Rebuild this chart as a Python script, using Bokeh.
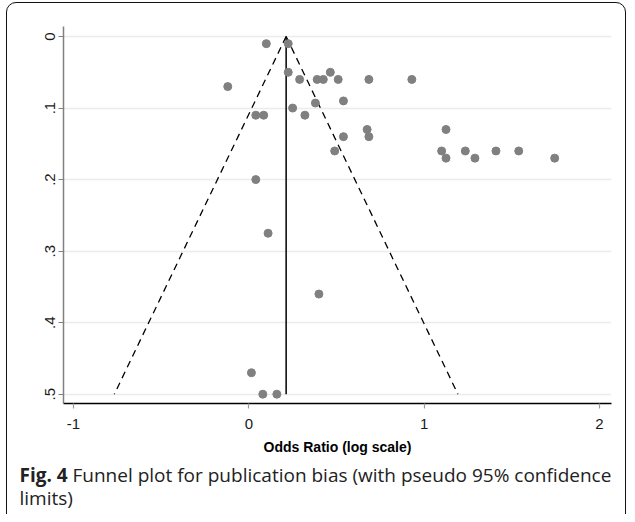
from bokeh.plotting import figure
from bokeh.layouts import column
from bokeh.models import Range1d, FixedTicker, InlineStyleSheet
from bokeh.core.properties import value
from bokeh.embed import file_html
from bokeh.resources import INLINE

# ---- data ----
log_or = [0.10, 0.225, -0.12, 0.225, 0.29, 0.39, 0.425, 0.465, 0.51, 0.685, 0.93,
          0.04, 0.085, 0.25, 0.32, 0.38, 0.54, 0.675, 0.685, 0.54, 0.49,
          1.125, 1.10, 1.125, 1.235, 1.29, 1.41, 1.54, 1.745,
          0.04, 0.11, 0.40, 0.015, 0.08, 0.16]
se_or = [0.01, 0.01, 0.07, 0.05, 0.06, 0.06, 0.06, 0.05, 0.06, 0.06, 0.06,
         0.11, 0.11, 0.10, 0.11, 0.093, 0.09, 0.13, 0.14, 0.14, 0.16,
         0.13, 0.16, 0.17, 0.16, 0.17, 0.16, 0.16, 0.17,
         0.20, 0.275, 0.36, 0.47, 0.50, 0.50]
pooled = 0.213
funnel_se = [0.0, 0.5]
z95 = 1.96

x_ticks = [-1, 0, 1, 2]
x_tick_labels = ["-1", "0", "1", "2"]
y_ticks = [0, 0.1, 0.2, 0.3, 0.4, 0.5]
y_tick_labels = ["0", ".1", ".2", ".3", ".4", ".5"]

x_title = "Odds Ratio (log scale)"
caption_bold = "Fig. 4"
caption_line1 = "Funnel plot for publication bias (with pseudo 95% confidence"
caption_line2 = "limits)"

W = 627
H_PLOT = 460
H_CAP = 54

# ---- main plot ----
p = figure(width=W, height=H_PLOT, output_backend="svg", toolbar_location=None,
           x_range=Range1d(-1.057, 2.069), y_range=Range1d(0.513, -0.014),
           min_border_left=63, min_border_right=16, min_border_top=26,
           min_border_bottom=H_PLOT - 26 - 377)
p.background_fill_color = "white"
p.border_fill_color = "white"
p.outline_line_color = None
p.frame_align = False

left_x = [pooled - z95 * s for s in funnel_se]
right_x = [pooled + z95 * s for s in funnel_se]
p.line(left_x, funnel_se, line_color="black", line_width=1.3, line_dash="7 5")
p.line(right_x, funnel_se, line_color="black", line_width=1.3, line_dash="7 5")
p.line([pooled, pooled], funnel_se, line_color="black", line_width=1.5)

p.scatter(log_or, se_or, size=8, fill_color="#808080", line_color="#808080")

p.xaxis.ticker = FixedTicker(ticks=x_ticks)
p.xaxis.major_label_overrides = {t: l for t, l in zip(x_ticks, x_tick_labels)}
p.yaxis.ticker = FixedTicker(ticks=y_ticks)
p.yaxis.major_label_overrides = {t: l for t, l in zip(y_ticks, y_tick_labels)}

for ax in (p.xaxis[0], p.yaxis[0]):
    ax.major_label_text_font = "Liberation Sans"
    ax.major_label_text_font_size = "15px"
    ax.major_label_text_color = "#1a1a1a"
    ax.minor_tick_line_color = None
    ax.major_tick_in = 0
    ax.major_tick_out = 5
    ax.axis_line_width = 1.5
    ax.major_tick_line_width = 1.2

p.xaxis.axis_line_color = "black"
p.xaxis.major_tick_line_color = "#9a9a9a"
p.xaxis.major_label_standoff = 10
p.xaxis.axis_label = x_title
p.xaxis.axis_label_text_font = "Liberation Sans"
p.xaxis.axis_label_text_font_style = "bold"
p.xaxis.axis_label_text_font_size = "14px"
p.xaxis.axis_label_text_color = "black"
p.xaxis.axis_label_standoff = 7

p.yaxis.axis_line_color = "#808080"
p.yaxis.major_tick_line_color = "#808080"
p.yaxis.major_label_orientation = "vertical"
p.yaxis.major_label_standoff = 3

p.xgrid.visible = False
p.ygrid.grid_line_color = "#ebebeb"
p.ygrid.grid_line_width = 1.5

# ---- caption panel (pixel coordinates, y downward) ----
c = figure(width=W, height=H_CAP, output_backend="svg", toolbar_location=None,
           x_axis_location=None, y_axis_location=None,
           x_range=Range1d(0, W), y_range=Range1d(H_CAP, 0),
           min_border_left=0, min_border_right=0, min_border_top=0, min_border_bottom=0)
c.frame_align = False
c.grid.visible = False
c.outline_line_color = None
c.background_fill_color = "white"
c.border_fill_color = "white"

cap_font = value("Open Sans")
cap_size = "19px"
c.text(x=[19], y=[14], text=[caption_bold], text_font=cap_font, text_font_style="bold",
       text_font_size=cap_size, text_color="#222222", text_baseline="alphabetic")
c.text(x=[72], y=[14], text=[caption_line1], text_font=cap_font,
       text_font_size=cap_size, text_color="#222222", text_baseline="alphabetic")
c.text(x=[19], y=[37], text=[caption_line2], text_font=cap_font,
       text_font_size=cap_size, text_color="#222222", text_baseline="alphabetic")

frame_css = InlineStyleSheet(css="""
:host { position: relative; overflow: hidden; }
:host::after {
  content: ""; position: absolute; left: 6px; top: 2px; width: 620px; height: 530px;
  box-sizing: border-box; border: 1.6px solid #111; border-radius: 10px;
  pointer-events: none;
}
""")

layout = column(p, c, spacing=0, stylesheets=[frame_css])

open("out.html", "w").write(file_html(layout, INLINE))
